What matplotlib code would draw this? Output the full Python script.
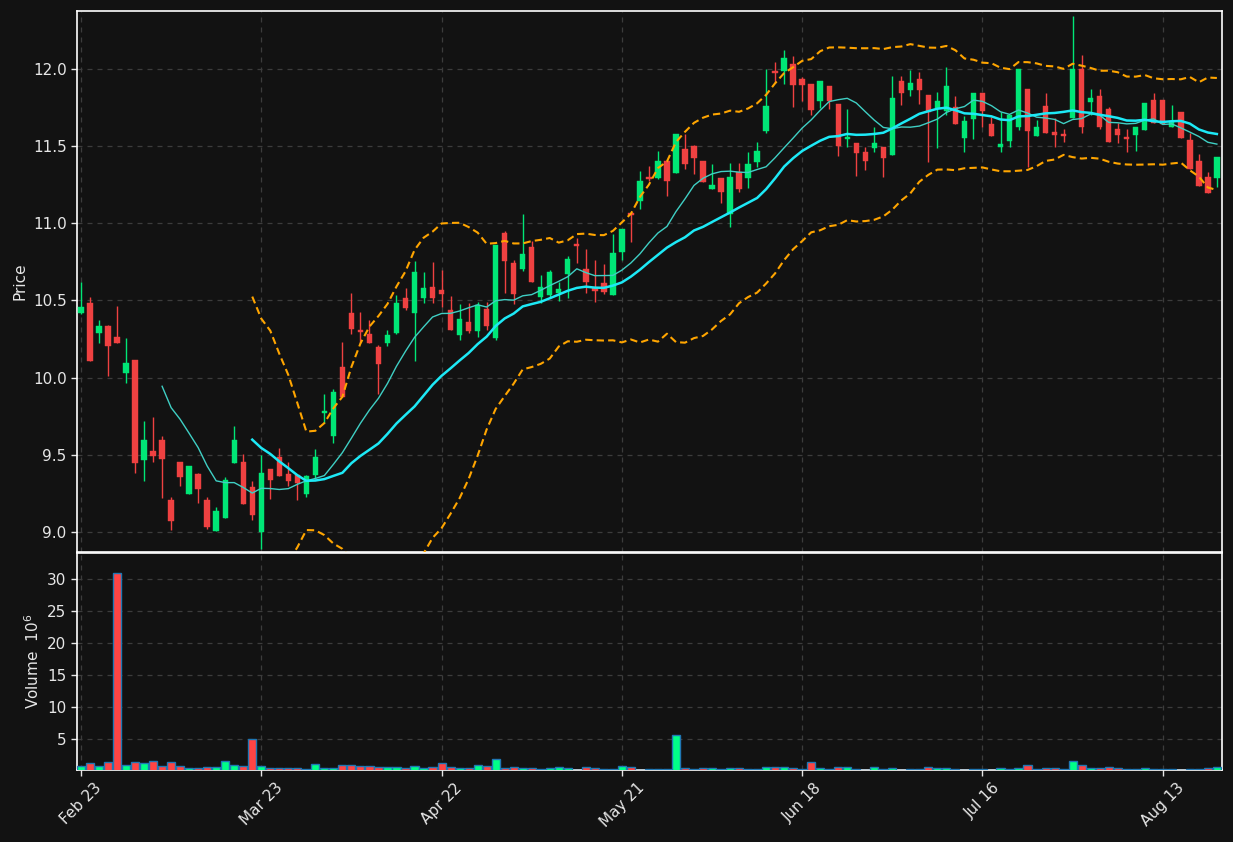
import numpy as np
import pandas as pd
import matplotlib
matplotlib.use("Agg")
import matplotlib.pyplot as plt

# ---------------- data ----------------
tick_labels = ["Feb 23", "Mar 23", "Apr 22", "May 21", "Jun 18", "Jul 16", "Aug 13"]

opens = [10.417, 10.484, 10.292, 10.335, 10.263, 10.032, 10.114, 9.469, 9.525, 9.596,
         9.207, 9.454, 9.249, 9.376, 9.207, 9.009, 9.093, 9.449, 9.454, 9.289,
         9.002, 9.408, 9.488, 9.376, 9.367, 9.246, 9.369, 9.769, 9.624, 10.069,
         10.419, 10.302, 10.283, 10.199, 10.227, 10.287, 10.516, 10.421, 10.518, 10.587,
         10.568, 10.439, 10.279, 10.361, 10.299, 10.445, 10.259, 10.938, 10.743, 10.702,
         10.847, 10.525, 10.536, 10.549, 10.672, 10.864, 10.702, 10.579, 10.612, 10.537,
         10.811, 11.065, 11.147, 11.296, 11.296, 11.404, 11.328, 11.482, 11.501, 11.404,
         11.225, 11.292, 11.058, 11.335, 11.292, 11.400, 11.600, 11.978, 11.987, 12.032,
         11.935, 11.903, 11.795, 11.890, 11.773, 11.549, 11.520, 11.464, 11.490, 11.495,
         11.445, 11.922, 11.866, 11.935, 11.832, 11.749, 11.728, 11.754, 11.553, 11.678,
         11.842, 11.644, 11.497, 11.536, 11.626, 11.868, 11.568, 11.758, 11.590, 11.580,
         11.682, 11.998, 11.786, 11.825, 11.741, 11.611, 11.555, 11.575, 11.607, 11.800,
         11.800, 11.626, 11.719, 11.538, 11.404, 11.298, 11.296]

highs = [10.622, 10.520, 10.374, 10.340, 10.464, 10.255, 10.114, 9.719, 9.745, 9.622,
         9.229, 9.454, 9.430, 9.383, 9.229, 9.162, 9.358, 9.685, 9.503, 9.332,
         9.497, 9.410, 9.546, 9.456, 9.370, 9.370, 9.536, 9.892, 9.929, 10.229,
         10.546, 10.423, 10.374, 10.210, 10.311, 10.536, 10.579, 10.756, 10.682, 10.747,
         10.698, 10.529, 10.475, 10.482, 10.487, 10.487, 10.862, 10.948, 10.760, 11.059,
         10.886, 10.663, 10.700, 10.618, 10.787, 10.905, 10.831, 10.760, 10.737, 10.930,
         10.962, 11.075, 11.339, 11.371, 11.469, 11.410, 11.580, 11.579, 11.505, 11.406,
         11.382, 11.292, 11.389, 11.389, 11.460, 11.529, 11.998, 12.048, 12.123, 12.084,
         11.950, 11.905, 11.922, 11.892, 11.775, 11.739, 11.522, 11.497, 11.626, 11.497,
         11.955, 11.955, 11.994, 11.978, 11.834, 11.851, 12.010, 11.825, 11.695, 11.842,
         11.845, 11.691, 11.719, 11.700, 12.000, 11.870, 11.667, 11.842, 11.685, 11.609,
         12.343, 12.090, 11.870, 11.868, 11.756, 11.648, 11.613, 11.626, 11.780, 11.847,
         11.802, 11.769, 11.720, 11.583, 11.447, 11.335, 11.430]

lows = [10.410, 10.110, 10.227, 10.011, 10.227, 9.963, 9.380, 9.333, 9.451, 9.220,
        9.015, 9.298, 9.243, 9.186, 9.022, 9.009, 9.093, 9.449, 9.181, 9.080,
        8.892, 9.216, 9.365, 9.298, 9.205, 9.226, 9.346, 9.704, 9.574, 9.873,
        10.281, 10.227, 10.227, 9.894, 10.207, 10.281, 10.436, 10.110, 10.482, 10.482,
        10.456, 10.309, 10.244, 10.292, 10.266, 10.310, 10.244, 10.547, 10.476, 10.692,
        10.620, 10.484, 10.525, 10.494, 10.518, 10.745, 10.547, 10.493, 10.545, 10.537,
        10.760, 10.877, 11.093, 11.274, 11.290, 11.179, 11.328, 11.350, 11.317, 11.270,
        11.225, 11.130, 10.978, 11.200, 11.227, 11.367, 11.587, 11.907, 11.900, 11.756,
        11.790, 11.700, 11.745, 11.740, 11.438, 11.492, 11.309, 11.348, 11.464, 11.298,
        11.440, 11.769, 11.827, 11.775, 11.400, 11.490, 11.700, 11.644, 11.460, 11.549,
        11.622, 11.568, 11.464, 11.492, 11.605, 11.367, 11.568, 11.587, 11.497, 11.529,
        11.682, 11.587, 11.700, 11.609, 11.529, 11.518, 11.462, 11.469, 11.607, 11.648,
        11.641, 11.626, 11.555, 11.354, 11.244, 11.199, 11.238]

closes = [10.456, 10.110, 10.335, 10.205, 10.227, 10.095, 9.449, 9.596, 9.494, 9.473,
          9.071, 9.356, 9.425, 9.278, 9.035, 9.134, 9.335, 9.596, 9.181, 9.110,
          9.380, 9.337, 9.365, 9.333, 9.315, 9.363, 9.486, 9.784, 9.907, 9.873,
          10.317, 10.298, 10.227, 10.091, 10.276, 10.482, 10.454, 10.685, 10.581, 10.518,
          10.544, 10.309, 10.380, 10.299, 10.468, 10.337, 10.862, 10.759, 10.545, 10.800,
          10.621, 10.588, 10.686, 10.575, 10.767, 10.850, 10.617, 10.560, 10.552, 10.808,
          10.962, 11.055, 11.274, 11.290, 11.404, 11.276, 11.579, 11.384, 11.425, 11.270,
          11.248, 11.205, 11.300, 11.225, 11.382, 11.469, 11.758, 11.972, 12.069, 11.898,
          11.896, 11.734, 11.922, 11.793, 11.501, 11.559, 11.458, 11.406, 11.520, 11.425,
          11.812, 11.847, 11.909, 11.866, 11.719, 11.793, 11.890, 11.644, 11.663, 11.842,
          11.730, 11.568, 11.514, 11.700, 11.998, 11.600, 11.622, 11.587, 11.575, 11.568,
          11.998, 11.626, 11.812, 11.626, 11.529, 11.575, 11.549, 11.622, 11.780, 11.648,
          11.641, 11.661, 11.555, 11.354, 11.244, 11.199, 11.430]

volumes = [0.73, 1.2, 0.73, 1.35, 30.9, 0.9, 1.35, 1.2, 1.5, 0.73,
           1.35, 0.73, 0.42, 0.42, 0.57, 0.57, 1.5, 0.9, 0.73, 5.0,
           0.73, 0.42, 0.42, 0.42, 0.42, 0.26, 1.04, 0.42, 0.42, 0.9,
           0.9, 0.73, 0.73, 0.57, 0.57, 0.57, 0.42, 0.73, 0.42, 0.57,
           1.2, 0.57, 0.42, 0.42, 0.9, 0.73, 1.82, 0.42, 0.57, 0.42,
           0.42, 0.26, 0.42, 0.57, 0.42, 0.12, 0.57, 0.42, 0.26, 0.26,
           0.73, 0.57, 0.12, 0.26, 0.26, 0.26, 5.5, 0.42, 0.26, 0.42,
           0.42, 0.26, 0.42, 0.42, 0.26, 0.26, 0.57, 0.57, 0.57, 0.42,
           0.26, 1.35, 0.42, 0.26, 0.57, 0.57, 0.26, 0.12, 0.57, 0.26,
           0.42, 0.12, 0.26, 0.26, 0.57, 0.42, 0.42, 0.26, 0.12, 0.26,
           0.26, 0.12, 0.42, 0.26, 0.42, 0.9, 0.26, 0.42, 0.42, 0.26,
           1.5, 0.9, 0.42, 0.42, 0.57, 0.42, 0.26, 0.26, 0.42, 0.26,
           0.26, 0.26, 0.12, 0.26, 0.26, 0.42, 0.57]

# ---------------- derived ----------------
o = np.array(opens); h = np.array(highs); l = np.array(lows); c = np.array(closes)
v = np.array(volumes)
n = len(c)
x = np.arange(n)
up = c >= o

close_s = pd.Series(c)
ma10 = close_s.rolling(10).mean()
ma20 = close_s.rolling(20).mean()
sd20 = close_s.rolling(20).std()
bb_up = ma20 + 2 * sd20
bb_lo = ma20 - 2 * sd20

# ---------------- style ----------------
BG = "#121212"
TXT = "#e6e6e6"
GRID = "#3c3c3c"
C_UP = "#00e676"
C_DN = "#ef4141"
V_UP = "#00ff88"
V_DN = "#ff4444"

plt.rcParams["font.family"] = ["DejaVu Sans"]

fig = plt.figure(figsize=(12.33, 8.42), dpi=100, facecolor=BG)
L, R = 77 / 1233, 1222 / 1233
ax = fig.add_axes([L, 1 - 552 / 842, R - L, (552 - 11) / 842])
axv = fig.add_axes([L, 1 - 770 / 842, R - L, (770 - 553) / 842], sharex=ax)

for a in (ax, axv):
    a.set_facecolor(BG)
    for s in a.spines.values():
        s.set_color("white")
        s.set_linewidth(1.2)
    a.grid(True, color=GRID, linestyle=(0, (4, 4)), linewidth=0.9)
    a.set_axisbelow(True)
    a.tick_params(colors=TXT, labelsize=11, length=4, width=1)

# candles
cols = np.where(up, C_UP, C_DN)
ax.vlines(x, l, h, colors=cols, linewidth=1.0, zorder=2)
body_bottom = np.minimum(o, c)
body_h = np.maximum(np.abs(c - o), 0.012)
ax.bar(x, body_h, bottom=body_bottom, width=0.6, color=cols, edgecolor=cols,
       linewidth=0.3, zorder=3)

# indicators
ax.plot(x, ma10, color="#3fcfc4", linewidth=1.0, zorder=4)
ax.plot(x, ma20, color="#1de9f6", linewidth=1.8, zorder=4)
ax.plot(x, bb_up, color="#ffa500", linewidth=1.5, linestyle=(0, (3.5, 2)), zorder=4)
ax.plot(x, bb_lo, color="#ffa500", linewidth=1.5, linestyle=(0, (3.5, 2)), zorder=4)

ax.set_ylim(8.87, 12.376)
ax.set_yticks([9.0, 9.5, 10.0, 10.5, 11.0, 11.5, 12.0])
ax.set_yticklabels([f"{t:.1f}" for t in [9.0, 9.5, 10.0, 10.5, 11.0, 11.5, 12.0]])
ax.set_ylabel("Price", color=TXT, fontsize=11)
ax.tick_params(axis="x", labelbottom=False, length=0)

# volume
vcols = np.where(up, V_UP, V_DN)
axv.bar(x, v, width=0.9, color=vcols, edgecolor="#1f77b4", linewidth=1.0, zorder=3)
axv.set_ylim(0.08, 34.0)
axv.set_yticks([5, 10, 15, 20, 25, 30])
axv.set_ylabel("Volume  $10^{6}$", color=TXT, fontsize=11)

tick_pos = np.arange(len(tick_labels)) * 20
axv.set_xticks(tick_pos)
axv.set_xticklabels(tick_labels, rotation=45, ha="center")
axv.set_xlim(-0.44, n - 0.43)

fig.savefig("out.png", dpi=100, facecolor=BG)
